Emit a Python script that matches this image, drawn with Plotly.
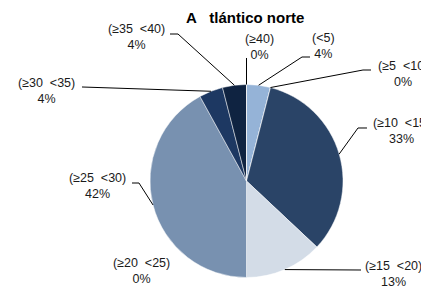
import numpy as np
import plotly.graph_objects as go

# ---- data ----
categories = ["(<5)", "(≥5  <10)", "(≥10  <15)", "(≥15  <20)", "(≥20  <25)",
              "(≥25  <30)", "(≥30  <35)", "(≥35  <40)", "(≥40)"]
values = [4, 0, 33, 13, 0, 42, 4, 4, 0]
pct_labels = ["4%", "0%", "33%", "13%", "0%", "42%", "4%", "4%", "0%"]
colors = ["#95B3D7", "#2A4467", "#2A4467", "#D3DCE7", "#D3DCE7",
          "#7891B0", "#1D3862", "#0F2341", "#0F2341"]
title_text = "A\u00a0\u00a0\u00a0tlántico norte"

# page is rendered with an 8px body margin; work in page pixels, convert to figure
OFF = 8
W, H = 429 - OFF, 290 - OFF
# pie geometry in page pixels
CX, CY, R = 246.5, 181.0, 96.5

# label placement (page pixels): center x, center y
label_pos = {
    "(<5)": (323, 45.5),
    "(≥5  <10)": (403, 74),
    "(≥10  <15)": (401, 131),
    "(≥15  <20)": (393, 273.5),
    "(≥20  <25)": (141, 270.5),
    "(≥25  <30)": (97, 185.5),
    "(≥30  <35)": (46, 90.5),
    "(≥35  <40)": (136, 37.5),
    "(≥40)": (259, 47),
}
# leader line start points (page pixels), points before the pie edge
leader_start = {
    "(<5)": [(310, 57), (302, 57)],
    "(≥5  <10)": [(371, 70), (363, 70)],
    "(≥10  <15)": [(367, 128), (358, 128)],
    "(≥15  <20)": [(361, 270)],
    "(≥25  <30)": [(132, 183), (139, 183)],
    "(≥30  <35)": [(82, 87)],
    "(≥35  <40)": [(170, 34), (178, 34)],
    "(≥40)": [(246.5, 58)],
}


def px(x):
    return (x - OFF) / W


def py(y):
    return 1 - (y - OFF) / H


fig = go.Figure(go.Pie(
    labels=categories,
    values=values,
    sort=False,
    direction="clockwise",
    rotation=0,
    marker=dict(colors=colors, line=dict(color="rgba(255,255,255,0.6)", width=0.8)),
    textinfo="none",
    hoverinfo="label+percent",
    showlegend=False,
    domain=dict(x=[px(CX - R), px(CX + R)], y=[py(CY + R), py(CY - R)]),
))

total = float(sum(values))
cum = np.cumsum([0] + values)
shapes = []
annotations = []
for i, cat in enumerate(categories):
    mid = (cum[i] + values[i] / 2.0) / total
    ang = 2 * np.pi * mid
    ex = CX + R * np.sin(ang)
    ey = CY - R * np.cos(ang)
    lx, ly = label_pos[cat]
    txt = cat.replace("  ", "\u00a0\u00a0").replace("<", "&lt;")
    annotations.append(dict(
        x=px(lx), y=py(ly), xref="paper", yref="paper",
        text=txt + "<br>" + pct_labels[i], showarrow=False,
        xanchor="center", yanchor="middle", align="center",
        font=dict(family="Liberation Sans, Arial", size=12.5, color="#1a1a1a"),
    ))
    if cat in leader_start:
        pts = leader_start[cat] + [(ex, ey)]
        path = "M " + " L ".join(f"{px(a):.5f},{py(b):.5f}" for a, b in pts)
        shapes.append(dict(type="path", path=path, xref="paper", yref="paper",
                           line=dict(color="#000000", width=1)))

annotations.append(dict(
    x=px(245), y=1, xref="paper", yref="paper", text="<b>" + title_text + "</b>",
    showarrow=False, xanchor="center", yanchor="top", borderpad=0,
    font=dict(family="Liberation Sans, Arial", size=15, color="#000000"),
))

fig.update_layout(
    width=W, height=H,
    margin=dict(l=0, r=0, t=0, b=0),
    paper_bgcolor="white", plot_bgcolor="white",
    shapes=shapes, annotations=annotations,
)

fig.write_html("out.html")
